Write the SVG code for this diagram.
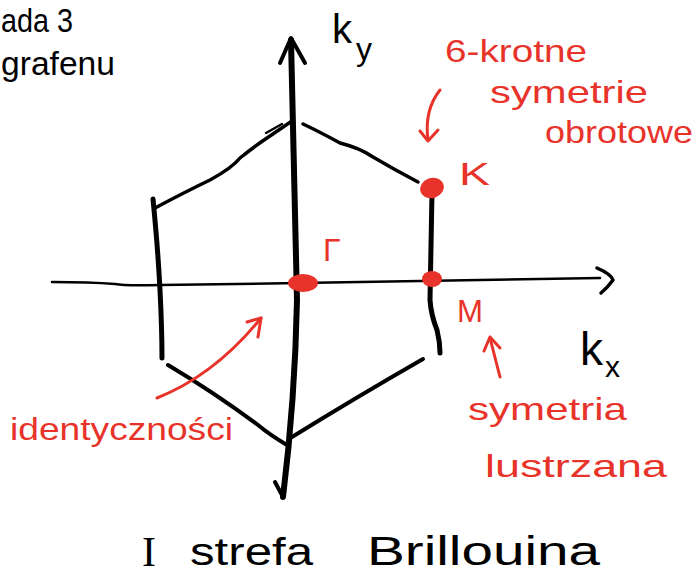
<svg xmlns="http://www.w3.org/2000/svg" width="697" height="574" viewBox="0 0 697 574">
<style>
.ink{fill:none;stroke:#000;stroke-linecap:round;stroke-linejoin:round}
.red{fill:none;stroke:#e8332a;stroke-width:3;stroke-linecap:round;stroke-linejoin:round}
.rt{fill:#e8332a;font-family:"Liberation Sans",Arial,sans-serif;font-size:32px}
.bt{fill:#000;font-family:"Liberation Sans",Arial,sans-serif}
.dot{fill:#e8332a}
</style>
<rect width="697" height="574" fill="#fff"/>
<g id="slide-title">
<text class="bt" x="1" y="32" font-size="33" textLength="72" lengthAdjust="spacingAndGlyphs">ada 3</text>
<text class="bt" x="1" y="75" font-size="33" textLength="114" lengthAdjust="spacingAndGlyphs">grafenu</text>
</g>
<g id="hexagon">
<path class="ink" stroke-width="3.5" d="M155,208 Q185,192 210,180 Q232,168 240,158 Q255,146 267,138 L292,121"/>
<path class="ink" stroke-width="2.5" d="M266,133 L282,124"/>
<path class="ink" stroke-width="3.5" d="M303,124 Q320,132 340,143 Q360,148 373,157 Q395,170 418,182"/>
<path class="ink" stroke-width="5" d="M153,199 Q158,250 160,290 Q162,330 162,358"/>
<path class="ink" stroke-width="5" d="M432,192 L430,300 Q431,315 437,330 Q440,342 440,353"/>
<path class="ink" stroke-width="4" d="M168,365 Q215,393 258,425 Q270,435 287,445"/>
<path class="ink" stroke-width="4" d="M292,437 Q355,398 423,359"/>
</g>
<g id="axes">
<path class="ink" stroke-width="6" d="M291,40 L297,300 Q295,400 283,497"/>
<path class="ink" stroke-width="4" d="M275,482 L283,497"/>
<path class="ink" stroke-width="4" d="M280,63 L291,38 L305,63"/>
<path class="ink" stroke-width="2.5" d="M52,282 Q90,282 115,284 Q125,286 160,285 L300,283 L600,278"/>
<path class="ink" stroke-width="3.5" d="M597,268 Q611,274 613,280 Q608,287 601,293"/>
<text class="bt" x="332" y="43" font-size="40">k</text>
<text class="bt" x="356" y="60" font-size="32">y</text>
<text class="bt" x="580" y="365" font-size="46">k</text>
<text class="bt" x="605" y="377" font-size="30">x</text>
</g>
<g id="point-gamma">
<ellipse class="dot" cx="303" cy="283" rx="15" ry="9"/>
<text class="rt" x="323" y="261" font-size="36">Γ</text>
</g>
<g id="point-K">
<ellipse class="dot" cx="432" cy="188" rx="12" ry="10" transform="rotate(-20 432 188)"/>
<text class="rt" x="459" y="185" font-size="46" textLength="31" lengthAdjust="spacingAndGlyphs">K</text>
</g>
<g id="point-M">
<ellipse class="dot" cx="432" cy="279" rx="10" ry="8"/>
<text class="rt" x="457" y="322" font-size="35" textLength="26" lengthAdjust="spacingAndGlyphs">M</text>
</g>
<g id="label-rotation">
<text class="rt" x="445" y="62" textLength="142" lengthAdjust="spacingAndGlyphs">6-krotne</text>
<text class="rt" x="490" y="103" textLength="158" lengthAdjust="spacingAndGlyphs">symetrie</text>
<text class="rt" x="545" y="143" font-size="28" textLength="148" lengthAdjust="spacingAndGlyphs">obrotowe</text>
</g>
<g id="label-mirror">
<text class="rt" x="468" y="420" textLength="159" lengthAdjust="spacingAndGlyphs">symetria</text>
<text class="rt" x="485" y="477" textLength="182" lengthAdjust="spacingAndGlyphs">lustrzana</text>
</g>
<g id="label-identity">
<text class="rt" x="10" y="440" textLength="223" lengthAdjust="spacingAndGlyphs">identyczności</text>
</g>
<g id="connectors">
<path class="red" d="M440,90 Q424,110 428,140"/>
<path class="red" d="M420,131 L428,141 L438,130"/>
<path class="red" d="M500,377 L490,338"/>
<path class="red" d="M484,351 L490,337 L500,348"/>
<path class="red" d="M157,398 Q215,375 261,318"/>
<path class="red" d="M247,322 L261,318 L258,337"/>
</g>
<g id="caption">
<text x="142" y="566" fill="#000" font-family="'Liberation Serif',serif" font-size="42">I</text>
<text class="bt" x="190" y="565" font-size="38" textLength="123" lengthAdjust="spacingAndGlyphs">strefa</text>
<text class="bt" x="367" y="565" font-size="40" textLength="233" lengthAdjust="spacingAndGlyphs">Brillouina</text>
</g>
</svg>
